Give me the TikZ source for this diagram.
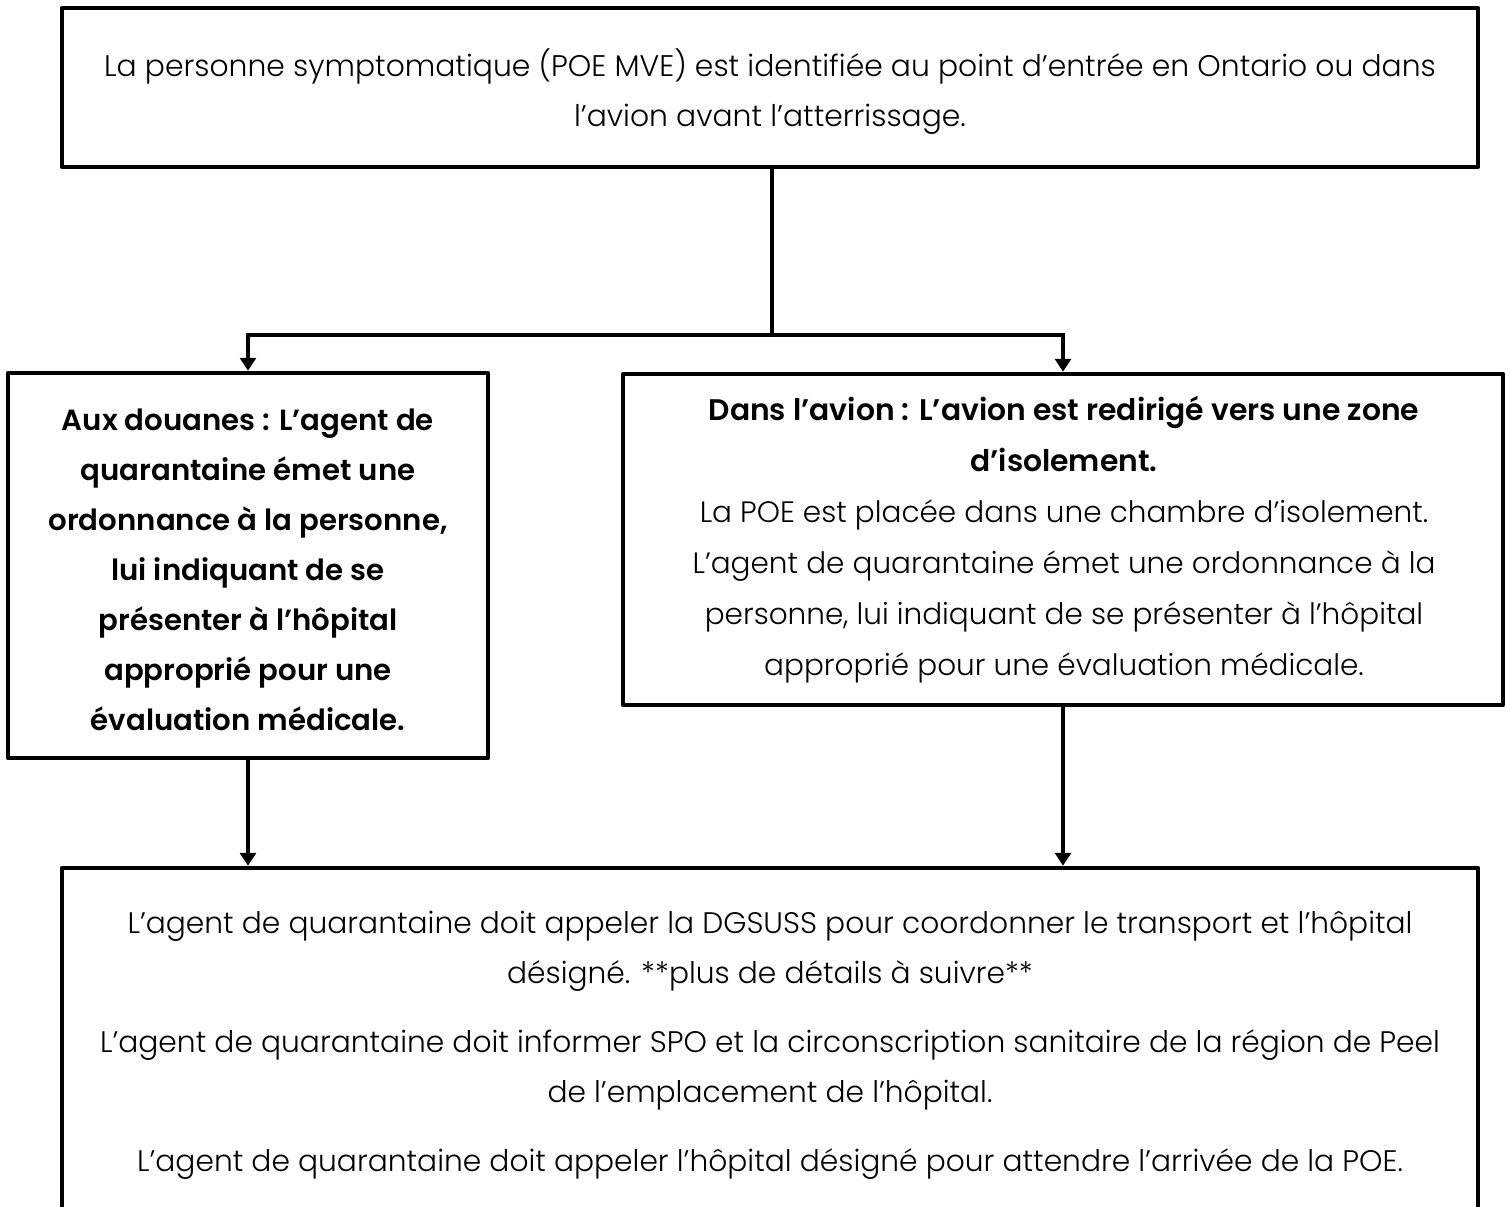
\documentclass[tikz,border=0pt]{standalone}
\usepackage{fontspec}
\setmainfont{Poppins}[UprightFont=* Light, BoldFont=* SemiBold]
\usetikzlibrary{arrows.meta}
\newcommand{\rbold}{\fontsize{29.8}{51}\selectfont\bfseries}
\begin{document}
\begin{tikzpicture}[x=1pt,y=-1pt,
  box/.style={draw, line width=4.5pt, line join=round, inner sep=0pt},
  conn/.style={line width=4.5pt},
  arr/.style={line width=4.5pt, -{Triangle[width=16pt,length=13pt]}},
  txt/.style={inner sep=0pt, align=center, anchor=north}]
\useasboundingbox (0,0) rectangle (1510,1207);
% boxes
\node[box, minimum width=1416pt, minimum height=159pt] (top) at (770,87.5) {};
\node[box, minimum width=480pt, minimum height=385pt] (left) at (248,565.5) {};
\node[box, minimum width=880pt, minimum height=331pt] (right) at (1063,539.5) {};
\node[box, minimum width=1416pt, minimum height=392pt] (bottom) at (770,1064) {};
% texts
\node[txt, font=\fontsize{29.8}{50}\selectfont] (ttop) at (770,41)
  {\strut La personne symptomatique (POE MVE) est identifiée au point d’entrée en Ontario ou dans\\
   l’avion avant l’atterrissage.};
\node[txt, font=\fontsize{29.2}{50}\selectfont\bfseries] (tleft) at (248,395)
  {\strut Aux douanes : L’agent de\\ quarantaine émet une\\ ordonnance à la personne,\\ lui indiquant de se\\
   présenter à l’hôpital\\ approprié pour une\\ évaluation médicale.};
\node[txt, font=\fontsize{29.5}{51}\selectfont] (tright) at (1064,384.3)
  {\strut{\rbold Dans l’avion : L’avion est redirigé vers une zone}\\ {\rbold d’isolement.}\\
   La POE est placée dans une chambre d’isolement.\\
   L’agent de quarantaine émet une ordonnance à la\\
   personne, lui indiquant de se présenter à l’hôpital\\
   approprié pour une évaluation médicale.};
\node[txt, font=\fontsize{29.7}{50}\selectfont] (tbottom) at (770,898)
  {\strut L’agent de quarantaine doit appeler la DGSUSS pour coordonner le transport et l’hôpital\\
   désigné. **plus de détails à suivre**\\[19pt]
   L’agent de quarantaine doit informer SPO et la circonscription sanitaire de la région de Peel\\
   de l’emplacement de l’hôpital.\\[19pt]
   L’agent de quarantaine doit appeler l’hôpital désigné pour attendre l’arrivée de la POE.};
% connectors
\coordinate (j) at (772,335);
\draw[conn] (top.south -| j) -- (j);
\draw[arr] (j) -| (left.north);
\draw[arr] (j) -| (right.north);
\draw[arr] (left.south) -- (left.south |- bottom.north);
\draw[arr] (right.south) -- (right.south |- bottom.north);
\end{tikzpicture}
\end{document}
